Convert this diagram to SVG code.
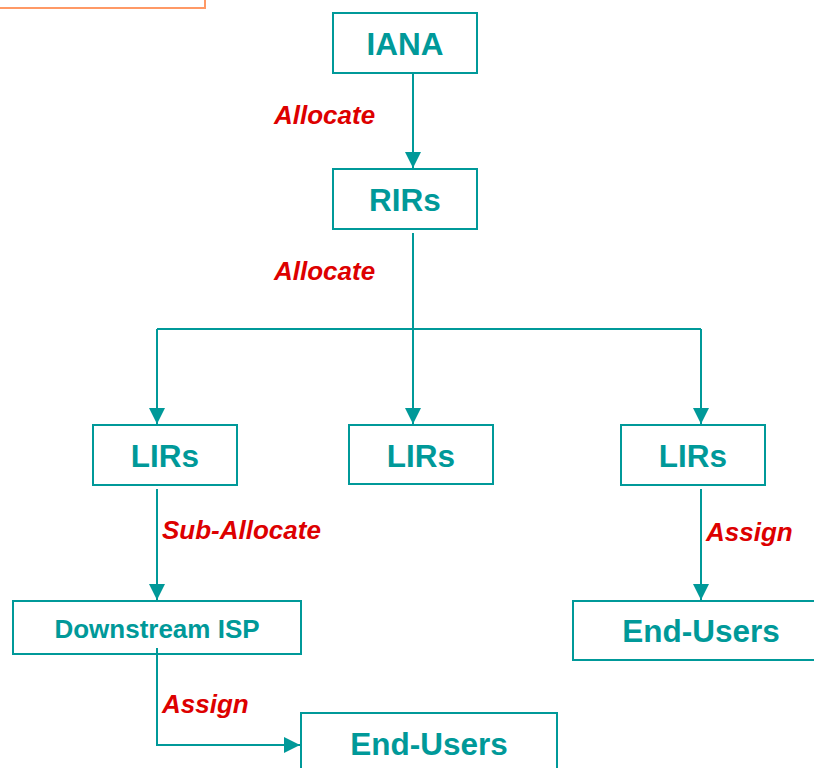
<svg xmlns="http://www.w3.org/2000/svg" width="814" height="768" viewBox="0 0 814 768">
<style>
.box{fill:#ffffff;stroke:#009999;stroke-width:2}
.nt{font-family:"Liberation Sans",Arial,sans-serif;font-weight:bold;font-size:31.5px;fill:#009999;text-anchor:middle}
.lb{font-family:"Liberation Sans",Arial,sans-serif;font-weight:bold;font-style:italic;font-size:26px;fill:#DD0000}
.cn{fill:none;stroke:#009999;stroke-width:2}
</style>
<defs>
<marker id="ah" markerUnits="userSpaceOnUse" markerWidth="16" markerHeight="16" viewBox="0 0 15 15" refX="15" refY="7.5" orient="auto">
<path d="M0,0 L15,7.5 L0,15 z" fill="#009999"/>
</marker>
</defs>
<rect x="-10" y="-10" width="215" height="18" fill="none" stroke="#FF9966" stroke-width="2"/>
<g id="iana"><rect class="box" x="333" y="13" width="144" height="60"/><text class="nt" x="405" y="55">IANA</text></g>
<g id="rirs"><rect class="box" x="333" y="169" width="144" height="60"/><text class="nt" x="405" y="211">RIRs</text></g>
<g id="lirs1"><rect class="box" x="93" y="425" width="144" height="60"/><text class="nt" x="165" y="467">LIRs</text></g>
<g id="lirs2"><rect class="box" x="349" y="425" width="144" height="59"/><text class="nt" x="421" y="467">LIRs</text></g>
<g id="lirs3"><rect class="box" x="621" y="425" width="144" height="60"/><text class="nt" x="693" y="467">LIRs</text></g>
<g id="downstream"><rect class="box" x="13" y="601" width="288" height="53"/><text class="nt" x="157" y="638" style="font-size:26px">Downstream ISP</text></g>
<g id="endusers1"><rect class="box" x="573" y="601" width="250" height="59"/><text class="nt" x="701" y="642">End-Users</text></g>
<g id="endusers2"><rect class="box" x="301" y="713" width="256" height="70"/><text class="nt" x="429" y="755">End-Users</text></g>
<g id="connectors">
<path class="cn" d="M413,73 V168" marker-end="url(#ah)"/>
<path class="cn" d="M413,233 V329 M157,329 H701"/>
<path class="cn" d="M157,329 V424" marker-end="url(#ah)"/>
<path class="cn" d="M413,329 V424" marker-end="url(#ah)"/>
<path class="cn" d="M701,329 V424" marker-end="url(#ah)"/>
<path class="cn" d="M157,489 V600" marker-end="url(#ah)"/>
<path class="cn" d="M701,489 V600" marker-end="url(#ah)"/>
<path class="cn" d="M157,648 V745 H300" marker-end="url(#ah)"/>
</g>
<g id="labels">
<text class="lb" x="274" y="124">Allocate</text>
<text class="lb" x="274" y="280">Allocate</text>
<text class="lb" x="162" y="539">Sub-Allocate</text>
<text class="lb" x="706" y="541">Assign</text>
<text class="lb" x="162" y="713">Assign</text>
</g>
</svg>
